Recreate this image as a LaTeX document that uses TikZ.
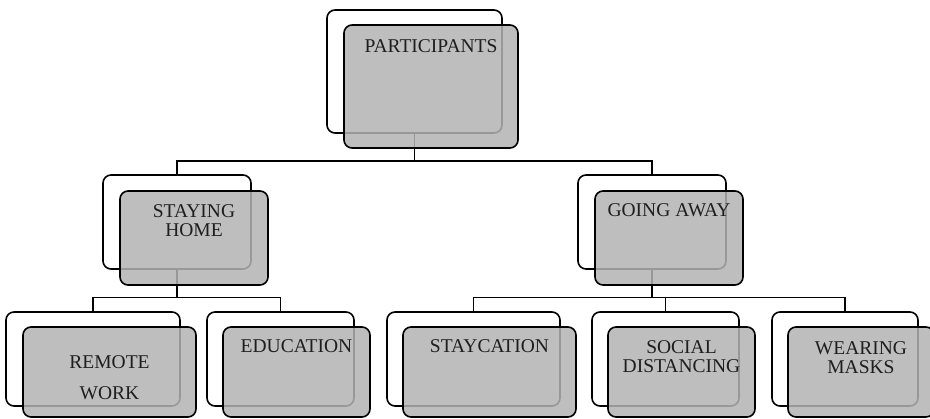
\documentclass[tikz,border=0pt]{standalone}
\usepackage{fontspec}
\setmainfont{Liberation Serif}
\definecolor{boxgray}{HTML}{B3B3B3}
\definecolor{txt}{HTML}{1E1E1E}
\begin{document}
\begin{tikzpicture}[x=1pt,y=-1pt,
  boxbase/.style={draw=black, line width=1.6pt, rounded corners=8pt, inner sep=0pt, outer sep=0pt},
  backbox/.style={boxbase, fill=white},
  frontbox/.style={boxbase, fill=boxgray, fill opacity=0.85},
  conn/.style={draw=black, line width=1.6pt},
  lbl/.style={font=\fontsize{19.5}{19.5}\selectfont, text=txt, align=center, anchor=base, inner sep=0pt}
]
\useasboundingbox (0,0) rectangle (930,419);
\fill[white] (0,0) rectangle (930,419);
\clip (0,0) rectangle (930,419);
% back boxes
\node[backbox, minimum width=175pt, minimum height=123pt] (Pb) at (414.5,71.5) {};
\node[backbox, minimum width=148pt, minimum height=94pt] (SHb) at (177,222) {};
\node[backbox, minimum width=148pt, minimum height=94pt] (GAb) at (652,222) {};
\node[backbox, minimum width=174pt, minimum height=94pt] (RWb) at (93,359) {};
\node[backbox, minimum width=147pt, minimum height=94pt] (EDb) at (280.5,359) {};
\node[backbox, minimum width=173pt, minimum height=94pt] (STb) at (473.5,359) {};
\node[backbox, minimum width=147pt, minimum height=94pt] (SDb) at (665.5,359) {};
\node[backbox, minimum width=146pt, minimum height=94pt] (WMb) at (845,359) {};
% bus coordinates
\coordinate (bus1) at (0,161);
\coordinate (bus2) at (0,297.5);
% connectors
\draw[conn] (Pb.south) -- (Pb.south |- bus1) -| (SHb.north);
\draw[conn] (Pb.south |- bus1) -| (GAb.north);
\draw[conn] (SHb.south) -- (SHb.south |- bus2) -| (RWb.north);
\draw[conn] (SHb.south |- bus2) -| (EDb.north);
\draw[conn] (GAb.south) -- (GAb.south |- bus2) -| (STb.north);
\draw[conn] (GAb.south |- bus2) -| (WMb.north);
\draw[conn] (SDb.north |- bus2) -- (SDb.north);
% front boxes
\node[frontbox, minimum width=174pt, minimum height=123pt] (Pf) at (431,86.5) {};
\node[frontbox, minimum width=148pt, minimum height=94pt] (SHf) at (194,238) {};
\node[frontbox, minimum width=148pt, minimum height=94pt] (GAf) at (669,238) {};
\node[frontbox, minimum width=173pt, minimum height=90pt] (RWf) at (109.5,372) {};
\node[frontbox, minimum width=147pt, minimum height=90pt] (EDf) at (296.5,372) {};
\node[frontbox, minimum width=173pt, minimum height=90pt] (STf) at (489.5,372) {};
\node[frontbox, minimum width=147pt, minimum height=90pt] (SDf) at (681.5,372) {};
\node[frontbox, minimum width=146pt, minimum height=90pt] (WMf) at (861,372) {};
% labels (base anchor = baseline of last line)
\node[lbl] (Pt) at (431,53) {PARTICIPANTS};
\node[lbl] (SHt) at (194,237) {STAYING\\HOME};
\node[lbl] (GAt) at (669,217) {GOING AWAY};
\node[lbl] (RWt) at (109.5,400) {REMOTE\\[11.5pt]WORK};
\node[lbl] (EDt) at (296.5,353) {EDUCATION};
\node[lbl] (STt) at (489.5,353) {STAYCATION};
\node[lbl] (SDt) at (681.5,373) {SOCIAL\\DISTANCING};
\node[lbl] (WMt) at (861,374) {WEARING\\MASKS};
\end{tikzpicture}
\end{document}
